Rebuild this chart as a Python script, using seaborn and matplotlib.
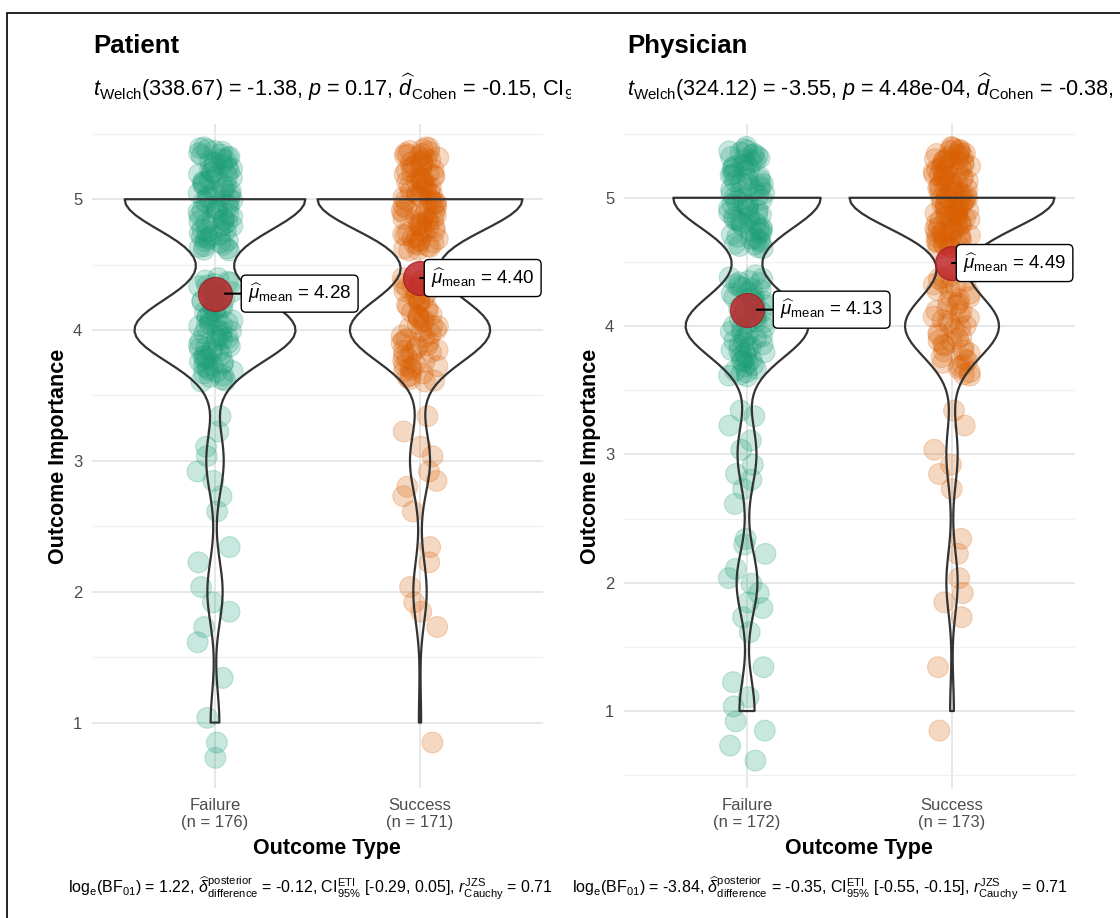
import numpy as np
import pandas as pd
import matplotlib.pyplot as plt
from matplotlib.transforms import Bbox, TransformedBbox
from matplotlib.patches import Rectangle
import seaborn as sns

# answers on a 1-5 scale, counts per level
levels = [1, 2, 3, 4, 5]
groups = ['Failure', 'Success']
panels = ['Patient', 'Physician']

patient_failure_counts = [4, 7, 8, 74, 83]
patient_success_counts = [1, 6, 9, 63, 92]
physician_failure_counts = [8, 11, 10, 65, 78]
physician_success_counts = [2, 6, 6, 50, 109]

subtitles = [
    r'$t_{\mathrm{Welch}}$(338.67) = -1.38, $p$ = 0.17, $\widehat{d}_{\mathrm{Cohen}}$ = -0.15, '
    r'CI$_{95\%}$ [-0.36, 0.06], $n_{\mathrm{obs}}$ = 347',
    r'$t_{\mathrm{Welch}}$(324.12) = -3.55, $p$ = 4.48e-04, $\widehat{d}_{\mathrm{Cohen}}$ = -0.38, '
    r'CI$_{95\%}$ [-0.59, -0.17], $n_{\mathrm{obs}}$ = 345',
]
captions = [
    r'log$_{\mathrm{e}}$(BF$_{01}$) = 1.22, $\widehat{\delta}_{\mathrm{difference}}^{\mathrm{posterior}}$ = -0.12, '
    r'CI$_{95\%}^{\mathrm{ETI}}$ [-0.29, 0.05], $r_{\mathrm{Cauchy}}^{\mathrm{JZS}}$ = 0.71',
    r'log$_{\mathrm{e}}$(BF$_{01}$) = -3.84, $\widehat{\delta}_{\mathrm{difference}}^{\mathrm{posterior}}$ = -0.35, '
    r'CI$_{95\%}^{\mathrm{ETI}}$ [-0.55, -0.15], $r_{\mathrm{Cauchy}}^{\mathrm{JZS}}$ = 0.71',
]

palette = {'Failure': '#1B9E77', 'Success': '#D95F02'}

sns.set_theme(style='whitegrid')
plt.rcParams['font.family'] = ['Liberation Sans', 'DejaVu Sans']
plt.rcParams['text.color'] = 'black'
plt.rcParams['mathtext.fontset'] = 'custom'
plt.rcParams['mathtext.rm'] = 'Liberation Sans'
plt.rcParams['mathtext.it'] = 'Liberation Sans:italic'
plt.rcParams['mathtext.bf'] = 'Liberation Sans:bold'


def nrd0(kde):
    # R's default bandwidth (bw.nrd0), as ggplot uses for violins
    x = kde.dataset[0]
    sd = x.std(ddof=1)
    iqr = np.subtract(*np.percentile(x, [75, 25]))
    return 0.9 * min(sd, iqr / 1.34) * len(x) ** -0.2 / sd


def build_frame(failure_counts, success_counts):
    rows = []
    for grp, counts in zip(groups, [failure_counts, success_counts]):
        for lev, k in zip(levels, counts):
            for i in range(k):
                # vertical jitter for display only (quasi-random spread of +-0.4)
                off = (((i + 0.5) * 0.618034) % 1 - 0.5) * 0.8
                rows.append((grp, lev, lev + off))
    return pd.DataFrame(rows, columns=['group', 'value', 'shown'])


frames = [build_frame(patient_failure_counts, patient_success_counts),
          build_frame(physician_failure_counts, physician_success_counts)]

W, H = 1120, 918
fig = plt.figure(figsize=(W / 100, H / 100), dpi=100)
np.random.seed(3)

ax_left = [92, 624]
ylims = [(0.50, 5.575), (0.40, 5.575)]
label_offsets = {'Failure': 33, 'Success': 11}
clip_right = [571, 1117]
title_x = [93, 627]
caption_x = [68, 572]

for p, (panel, df) in enumerate(zip(panels, frames)):
    ax = fig.add_axes([ax_left[p] / W, 1 - 788 / H, 451 / W, 664 / H])

    sns.stripplot(data=df, x='group', y='shown', hue='group', order=groups,
                  palette=palette, jitter=0.09, size=15, alpha=0.24,
                  linewidth=0.8, edgecolor='face', legend=False, ax=ax, zorder=2)
    sns.violinplot(data=df, x='group', y='value', order=groups, cut=0,
                   inner=None, fill=False, color='#333333', linecolor='#333333',
                   linewidth=1.6, width=1.0, density_norm='area',
                   bw_method=nrd0, ax=ax, zorder=3)

    means = df.groupby('group')['value'].mean()
    ns = df.groupby('group').size()
    for i, grp in enumerate(groups):
        m = means[grp]
        ax.scatter(i, m, s=600, color='#c0282d', alpha=0.85,
                   edgecolor='#a01e22', linewidth=0.8, zorder=5)
        ax.annotate(r'$\widehat{\mu}_{\mathrm{mean}}$ = ' + f'{m:.2f}',
                    xy=(i, m), xytext=(label_offsets[grp], 0),
                    textcoords='offset pixels', ha='left', va='center',
                    fontsize=13.5, color='black', zorder=6,
                    bbox=dict(boxstyle='round,pad=0.36,rounding_size=0.25',
                              fc='white', ec='black', lw=1.0),
                    arrowprops=dict(arrowstyle='-', color='black', lw=1.5,
                                    shrinkA=0, shrinkB=7))

    ax.set_xlim(-0.6, 1.6)
    ax.set_ylim(*ylims[p])
    ax.set_yticks(levels)
    ax.set_yticks([0.5, 1.5, 2.5, 3.5, 4.5, 5.5], minor=True)
    ax.set_xticks(range(len(groups)))
    ax.set_xticklabels([f'{g}\n(n = {ns[g]})' for g in groups], linespacing=1.15)
    ax.grid(which='major', color='#E5E5E5', linewidth=1.3)
    ax.grid(which='minor', axis='y', color='#F0F0F0', linewidth=0.9)
    ax.set_axisbelow(True)
    for s in ax.spines.values():
        s.set_visible(False)
    ax.tick_params(axis='both', which='major', length=4, width=1.2,
                   color='#333333', labelcolor='#4D4D4D', labelsize=12, pad=3)
    ax.tick_params(which='minor', length=0)

    ax.set_xlabel('Outcome Type', fontsize=15.5, fontweight='bold', color='black')
    ax.set_ylabel('Outcome Importance', fontsize=15.5, fontweight='bold', color='black')
    ax.xaxis.set_label_coords(0.52, -0.075)
    ax.yaxis.set_label_coords(-0.052, 0.5)

    fig.text(title_x[p] / W, 1 - 46 / H, panel, fontsize=18.5,
             fontweight='bold', va='center', color='black')
    sub = fig.text(title_x[p] / W, 1 - 96 / H, subtitles[p], fontsize=15.6,
                   va='baseline', color='black')
    sub.set_clip_box(TransformedBbox(Bbox([[0, 0], [clip_right[p] / W, 1]]),
                                     fig.transFigure))
    sub.set_clip_on(True)
    fig.text(caption_x[p] / W, 1 - 893 / H, captions[p], fontsize=11.5,
             va='baseline', color='black')

fig.add_artist(Rectangle((7 / W, -0.05), 1.2, (H - 13) / H + 0.05,
                         transform=fig.transFigure, fill=False,
                         ec='black', lw=1.2, clip_on=False))

fig.savefig('out.png', dpi=100, facecolor='white')
